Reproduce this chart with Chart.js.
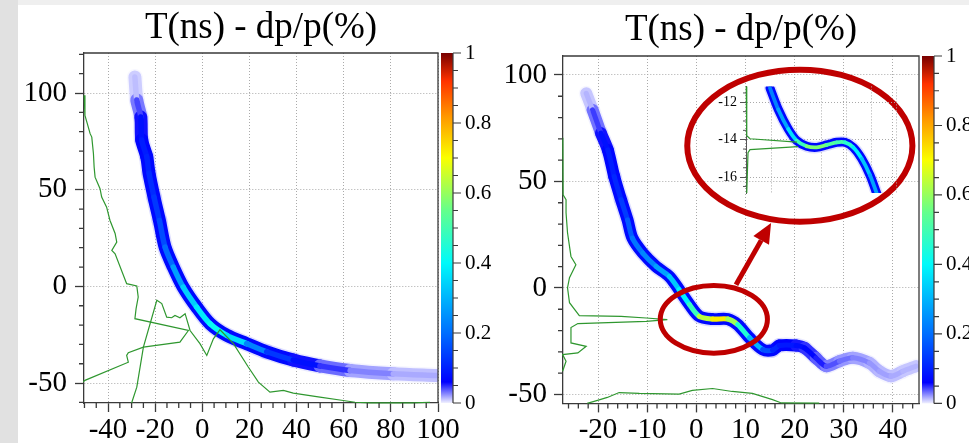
<!DOCTYPE html>
<html>
<head>
<meta charset="utf-8">
<script src="https://cdn.jsdelivr.net/npm/chart.js@4.4.1/dist/chart.umd.min.js"></script>
<style>
  html, body { margin: 0; padding: 0; background: #fff; overflow: hidden; }
  body { width: 969px; height: 443px; position: relative; }
  .strip-top { position: absolute; left: 0; top: 0; width: 969px; height: 5px; background: #efefef; }
  .strip-left { position: absolute; left: 0; top: 0; width: 18px; height: 443px; background: #e1e1e1; }
  canvas { position: absolute; }
  #leftCanvas { left: 0; top: 0; }
  #rightCanvas { left: 490px; top: 0; }
  #insetCanvas { left: 700px; top: 75px; }
</style>
</head>
<body>
<div class="strip-top"></div>
<div class="strip-left"></div>
<canvas id="leftCanvas" width="500" height="443"></canvas>
<canvas id="rightCanvas" width="510" height="443"></canvas>
<canvas id="insetCanvas" width="200" height="130"></canvas>
<script>
const TITLE = 'T(ns) - dp/p(%)';

// ---- left panel: band centre (dp/p %, T ns) and peak density along it
const leftBandX = [-28.6, -27.8, -26.1, -25.7, -23.6, -22.6, -20.5, -18.2, -15.8, -12.3, -8.1, -2.4, 3.3, 10.4, 18.8, 27.3, 38.6, 49.9, 62.7, 81.0, 99.4];
const leftBandY = [108.3, 96.4, 87.6, 75.7, 67.1, 58.5, 46.2, 34.1, 20.3, 10.0, -0.4, -10.7, -19.3, -25.3, -29.6, -33.8, -38.1, -41.1, -43.5, -45.2, -46.1];
const leftBandZ = [0.01, 0.015, 0.07, 0.09, 0.1, 0.11, 0.12, 0.14, 0.17, 0.22, 0.32, 0.36, 0.4, 0.42, 0.3, 0.16, 0.1, 0.06, 0.035, 0.02, 0.015];

// projection onto T (drawn sideways)
const leftProjTX = [-50.1, -49.8, -48.8, -47.6, -46.9, -46.2, -45.9, -45.5, -43.4, -42.7, -40.6, -39.2, -37.0, -36.3, -38.4, -37.0, -32.1, -27.8, -27.2, -28.1, -28.6, -5.9, -9.5, -25.0, -31.4, -32.1, -31.4, -49.8, -50.6];
const leftProjTY = [98.8, 88.4, 84.2, 79.0, 77.2, 68.7, 61.7, 56.5, 50.5, 46.2, 41.0, 34.2, 27.4, 22.9, 18.6, 16.9, 1.4, 0.2, -5.5, -11.5, -16.7, -22.8, -28.8, -31.4, -34.3, -35.7, -39.2, -48.6, -49.4];
// projection onto dp/p
const leftProjPX = [-30.0, -27.8, -25.0, -19.3, -17.2, -15.1, -13.0, -11.6, -9.5, -7.3, -5.2, -1.0, 1.9, 4.7, 7.5, 13.2, 19.5, 23.8, 28.7, 34.4, 38.6, 49.9, 59.8, 64.8, 71.2, 89.5, 96.6];
const leftProjPY = [-60.3, -52.1, -31.4, -7.2, -8.9, -15.9, -16.2, -15.0, -16.2, -14.1, -22.8, -29.6, -35.7, -27.1, -22.4, -29.6, -41.7, -49.5, -54.7, -53.8, -55.2, -57.3, -59.0, -59.9, -60.2, -60.2, -59.9];

// ---- right panel
const rightBandX = [-22.4, -21.1, -19.4, -18.0, -16.7, -15.3, -14.0, -13.0, -10.9, -8.2, -5.5, -3.5, -1.4, 0.6, 3.3, 6.4, 8.4, 10.8, 13.5, 15.5, 16.9, 20.3, 22.0, 24.3, 26.4, 29.1, 31.8, 35.2, 37.2, 39.6, 42.0, 44.7];
const rightBandY = [91.4, 83.6, 72.7, 64.8, 52.3, 41.4, 32.0, 23.4, 16.4, 10.1, 5.4, -0.8, -7.8, -13.3, -14.6, -14.6, -17.2, -23.4, -28.9, -29.2, -27.0, -27.0, -28.1, -32.8, -36.7, -34.4, -32.8, -35.2, -39.1, -41.4, -39.1, -36.7];
const rightBandZ = [0.01, 0.02, 0.07, 0.09, 0.1, 0.12, 0.15, 0.2, 0.22, 0.25, 0.3, 0.36, 0.42, 0.55, 0.72, 0.72, 0.5, 0.4, 0.2, 0.12, 0.1, 0.08, 0.075, 0.06, 0.045, 0.035, 0.03, 0.025, 0.02, 0.02, 0.015, 0.015];

const rightProjTX = [-27.15, -27.1, -26.5, -26.5, -26.2, -25.5, -24.5, -25.8, -26.2, -25.8, -23.8, -15.3, -10.2, -5.9, -10.2, -24.1, -25.5, -25.5, -22.4, -24.1, -27.2, -26.5, -27.2];
const rightProjTY = [70.5, 43.7, 41.4, 35.3, 25.9, 14.8, 10.9, 4.8, 0.1, -6.9, -13.0, -13.3, -14.1, -14.9, -15.7, -16.7, -18.6, -25.8, -27.4, -30.5, -31.3, -34.4, -39.1];
const rightProjPX = [-22.2, -20.1, -18.1, -15.7, -11.6, -3.5, -0.8, 3.3, 7.3, 11.4, 15.5, 17.3, 25.0];
const rightProjPY = [-54.2, -52.8, -51.4, -49.1, -49.5, -49.8, -48.1, -47.2, -48.6, -49.5, -52.4, -54.0, -54.1];

// ---- zoomed view of the step
const insetBandX = [0.96, 1.29, 1.69, 2.03, 2.43, 2.83, 3.23, 3.63, 3.96, 4.29, 4.63, 4.96, 5.23];
const insetBandY = [-11.24, -12.38, -13.43, -14.05, -14.35, -14.41, -14.28, -14.14, -14.14, -14.41, -15.02, -15.90, -16.87];
const insetBandZ = [0.2, 0.25, 0.3, 0.42, 0.55, 0.6, 0.55, 0.5, 0.5, 0.42, 0.35, 0.3, 0.25];
const insetUpperX = [0.01, 0.03, 0.16, 2.04];
const insetUpperY = [-11.15, -13.79, -13.95, -14.13];
const insetLowerX = [2.08, 0.16, 0.08, 0.03];
const insetLowerY = [-14.37, -14.53, -14.69, -16.85];

// callouts on the right panel, in data units
const stepRing = { x: 3.56, y: -14.7, rx: 10.9, ry: 15.9 };
const insetRing = { x: 21.05, y: 66.8, rx: 22.9, ry: 35.7 };
const arrowFrom = [8.07, 1.5];
const arrowTo = [15.2, 30.5];

// colour palette of the z axis
const PALETTE = [
  [0.00, 240, 240, 255],
  [0.06, 0, 0, 255],
  [0.20, 0, 110, 255],
  [0.40, 0, 250, 250],
  [0.55, 100, 255, 140],
  [0.70, 250, 255, 0],
  [0.82, 255, 150, 0],
  [0.92, 255, 50, 0],
  [1.00, 120, 0, 0]
];

const SERIF = '"Liberation Serif", "Times New Roman", serif';
const AXIS = '#3a3a3a';
const GRID = '#aaaaaa';
const GREEN = '#2f972f';
const RED = '#bf0000';

function zColor(z, alpha = 1) {
  z = Math.max(0, Math.min(1, z));
  for (let i = 1; i < PALETTE.length; i++) {
    const a = PALETTE[i - 1], b = PALETTE[i];
    if (z <= b[0]) {
      const t = (z - a[0]) / (b[0] - a[0]);
      const c = [1, 2, 3].map(k => Math.round(a[k] + (b[k] - a[k]) * t));
      return `rgba(${c[0]},${c[1]},${c[2]},${alpha})`;
    }
  }
  return 'rgb(120,0,0)';
}

const pts = (xs, ys) => xs.map((x, i) => ({ x, y: ys[i] }));

function projLine(xs, ys) {
  return { data: pts(xs, ys), borderColor: GREEN, borderWidth: 1.2, pointRadius: 0, tension: 0, clip: 1 };
}

// thick line coloured by density: core, body and a soft halo
function bandDatasets(xs, ys, zs, width) {
  const data = pts(xs, ys);
  const seg = fn => ({ borderColor: c => fn((zs[c.p0DataIndex] + zs[c.p1DataIndex]) / 2) });
  const base = { data, pointRadius: 0, tension: 0.3, borderCapStyle: 'round', borderJoinStyle: 'round', clip: 0 };
  return [
    { ...base, borderWidth: width * 0.42, borderColor: zColor(zs[0]), segment: seg(z => zColor(z)) },
    { ...base, borderWidth: width, borderColor: zColor(zs[0]), segment: seg(z => zColor(Math.min(z * 0.7, 0.07))) },
    { ...base, borderWidth: width + 3, borderColor: zColor(0.005, 0.3), segment: seg(z => zColor(Math.min(z * 0.15, 0.02), 0.35)) }
  ];
}

function minorTicks(ctx, scale, step, major, len, area) {
  if (!scale || !step) return;
  const start = Math.ceil(scale.min / step - 1e-9);
  const end = Math.floor(scale.max / step + 1e-9);
  ctx.beginPath();
  for (let k = start; k <= end; k++) {
    const v = k * step;
    if (Math.abs(v / major - Math.round(v / major)) < 1e-6) continue;
    const p = scale.getPixelForValue(v);
    if (scale.isHorizontal()) {
      ctx.moveTo(p, area.bottom);
      ctx.lineTo(p, area.bottom + len);
    } else {
      ctx.moveTo(area.left - len, p);
      ctx.lineTo(area.left, p);
    }
  }
  ctx.stroke();
}

// frame, minor ticks, colour bar and title
const panelDecor = {
  id: 'panelDecor',
  afterDraw(chart, args, opts) {
    const { ctx, chartArea: a, scales } = chart;
    ctx.save();
    ctx.strokeStyle = opts.tickColor || AXIS;
    ctx.lineWidth = opts.tickWidth || 1.3;
    if (opts.frame) {
      ctx.beginPath();
      ctx.moveTo(a.left, a.top);
      ctx.lineTo(a.right, a.top);
      ctx.lineTo(a.right, a.bottom);
      ctx.stroke();
    }
    minorTicks(ctx, scales.x, opts.minorX, opts.majorX, opts.minorLen, a);
    minorTicks(ctx, scales.y, opts.minorY, opts.majorY, opts.minorLen, a);

    const z = scales.z;
    if (z) {
      const x0 = a.right + 3, w = 12;
      const top = z.getPixelForValue(1), bot = z.getPixelForValue(0);
      const g = ctx.createLinearGradient(0, bot, 0, top);
      PALETTE.forEach(s => g.addColorStop(s[0], `rgb(${s[1]},${s[2]},${s[3]})`));
      ctx.fillStyle = g;
      ctx.fillRect(x0, top, w, bot - top);
      ctx.lineWidth = 1.2;
      ctx.beginPath();
      ctx.moveTo(x0 + w, top);
      ctx.lineTo(x0 + w, bot);
      for (let k = 0; k <= 20; k++) {
        const p = z.getPixelForValue(k * 0.05);
        ctx.moveTo(x0 + w, p);
        ctx.lineTo(x0 + w + (k % 4 === 0 ? 8 : 5), p);
      }
      ctx.stroke();
    }

    if (opts.title) {
      ctx.fillStyle = '#000';
      ctx.font = `37px ${SERIF}`;
      ctx.textAlign = 'center';
      ctx.textBaseline = 'alphabetic';
      ctx.fillText(opts.title, (a.left + a.right) / 2, opts.titleY);
    }
    ctx.restore();
  }
};

// red rings and arrow pointing at the zoomed view
const callouts = {
  id: 'callouts',
  afterDraw(chart) {
    const { ctx, scales: { x, y } } = chart;
    ctx.save();
    ctx.strokeStyle = RED;
    ctx.fillStyle = RED;
    const ring = (r, lw) => {
      const cx = x.getPixelForValue(r.x), cy = y.getPixelForValue(r.y);
      const rx = Math.abs(x.getPixelForValue(r.x + r.rx) - cx);
      const ry = Math.abs(y.getPixelForValue(r.y + r.ry) - cy);
      ctx.lineWidth = lw;
      ctx.beginPath();
      ctx.ellipse(cx, cy, rx, ry, 0, 0, Math.PI * 2);
      ctx.stroke();
    };
    ring(stepRing, 5);
    ring(insetRing, 6);

    const x1 = x.getPixelForValue(arrowFrom[0]), y1 = y.getPixelForValue(arrowFrom[1]);
    const x2 = x.getPixelForValue(arrowTo[0]), y2 = y.getPixelForValue(arrowTo[1]);
    const ang = Math.atan2(y2 - y1, x2 - x1);
    const head = 20, half = 9;
    const bx = x2 - head * Math.cos(ang), by = y2 - head * Math.sin(ang);
    ctx.lineWidth = 5;
    ctx.beginPath();
    ctx.moveTo(x1, y1);
    ctx.lineTo(bx, by);
    ctx.stroke();
    ctx.beginPath();
    ctx.moveTo(x2, y2);
    ctx.lineTo(bx + half * Math.sin(ang), by - half * Math.cos(ang));
    ctx.lineTo(bx - half * Math.sin(ang), by + half * Math.cos(ang));
    ctx.closePath();
    ctx.fill();
    ctx.restore();
  }
};

function mainPanel(canvasId, cfg) {
  return new Chart(document.getElementById(canvasId), {
    type: 'line',
    data: { datasets: cfg.datasets },
    options: {
      responsive: false,
      animation: false,
      events: [],
      layout: { padding: { top: cfg.top, left: 0, right: 0, bottom: 0 } },
      plugins: {
        legend: { display: false },
        tooltip: { enabled: false },
        panelDecor: {
          title: TITLE, titleY: cfg.titleY, frame: true,
          minorX: cfg.minorX, majorX: cfg.majorX, minorY: 10, majorY: 50, minorLen: 5
        }
      },
      scales: {
        x: {
          type: 'linear', position: 'bottom', min: cfg.xMin, max: cfg.xMax,
          afterFit: s => { s.height = cfg.xAxisH; },
          border: { color: AXIS, width: 1.3, dash: [1, 2] },
          grid: { color: GRID, lineWidth: 1, tickLength: 9, tickColor: AXIS, tickWidth: 1.3 },
          ticks: {
            stepSize: cfg.majorX, includeBounds: false, autoSkip: false, maxRotation: 0,
            font: { family: SERIF, size: 29 }, color: '#000', padding: 1
          }
        },
        y: {
          type: 'linear', position: 'left', min: cfg.yMin, max: cfg.yMax,
          afterFit: s => { s.width = cfg.yAxisW; },
          border: { color: AXIS, width: 1.3, dash: [1, 2] },
          grid: { color: GRID, lineWidth: 1, tickLength: 9, tickColor: AXIS, tickWidth: 1.3 },
          ticks: {
            stepSize: 50, includeBounds: false,
            font: { family: SERIF, size: 29 }, color: '#000', padding: cfg.yPad
          }
        },
        z: {
          type: 'linear', position: 'right', min: 0, max: 1,
          afterFit: s => { s.width = cfg.zAxisW; },
          grid: { display: false, drawTicks: false },
          border: { display: false },
          ticks: {
            stepSize: 0.2, font: { family: SERIF, size: 21 }, color: '#000', padding: 27,
            callback: v => String(Math.round(v * 10) / 10)
          }
        }
      }
    },
    plugins: cfg.callouts ? [panelDecor, callouts] : [panelDecor]
  });
}

mainPanel('leftCanvas', {
  datasets: [
    projLine(leftProjTX, leftProjTY),
    projLine(leftProjPX, leftProjPY),
    ...bandDatasets(leftBandX, leftBandY, leftBandZ, 13)
  ],
  top: 53, titleY: 38, xAxisH: 40, yAxisW: 84, zAxisW: 62, yPad: 8,
  xMin: -50.2, xMax: 100, majorX: 20, minorX: 5,
  yMin: -60.3, yMax: 120.7
});

mainPanel('rightCanvas', {
  datasets: [
    projLine(rightProjTX, rightProjTY),
    projLine(rightProjPX, rightProjPY),
    ...bandDatasets(rightBandX, rightBandY, rightBandZ, 12)
  ],
  top: 56, titleY: 40, xAxisH: 39, yAxisW: 73, zAxisW: 81, yPad: 7,
  xMin: -27.12, xMax: 45.29, majorX: 10, minorX: 2,
  yMin: -54.2, yMax: 108.9,
  callouts: true
});

new Chart(document.getElementById('insetCanvas'), {
  type: 'line',
  data: {
    datasets: [
      projLine(insetUpperX, insetUpperY),
      projLine(insetLowerX, insetLowerY),
      ...bandDatasets(insetBandX, insetBandY, insetBandZ, 9)
    ]
  },
  options: {
    responsive: false,
    animation: false,
    events: [],
    layout: { padding: { top: 10, right: 4, left: 0, bottom: 0 } },
    plugins: {
      legend: { display: false },
      tooltip: { enabled: false },
      panelDecor: { minorY: 0.5, majorY: 2, minorLen: 3, tickColor: '#555', tickWidth: 1 }
    },
    scales: {
      x: {
        type: 'linear', min: 0, max: 6,
        afterFit: s => { s.height = 12; },
        border: { display: false, dash: [1, 2] },
        grid: { color: GRID, drawTicks: false },
        ticks: { display: false, stepSize: 1 }
      },
      y: {
        type: 'linear', min: -16.85, max: -11.15,
        afterFit: s => { s.width = 46; },
        border: { color: '#555', width: 1, dash: [1, 2] },
        grid: { color: GRID, tickLength: 6, tickColor: '#555' },
        ticks: { stepSize: 2, includeBounds: false, font: { family: SERIF, size: 14 }, color: '#000', padding: 3 }
      }
    }
  },
  plugins: [panelDecor]
});
</script>
</body>
</html>
